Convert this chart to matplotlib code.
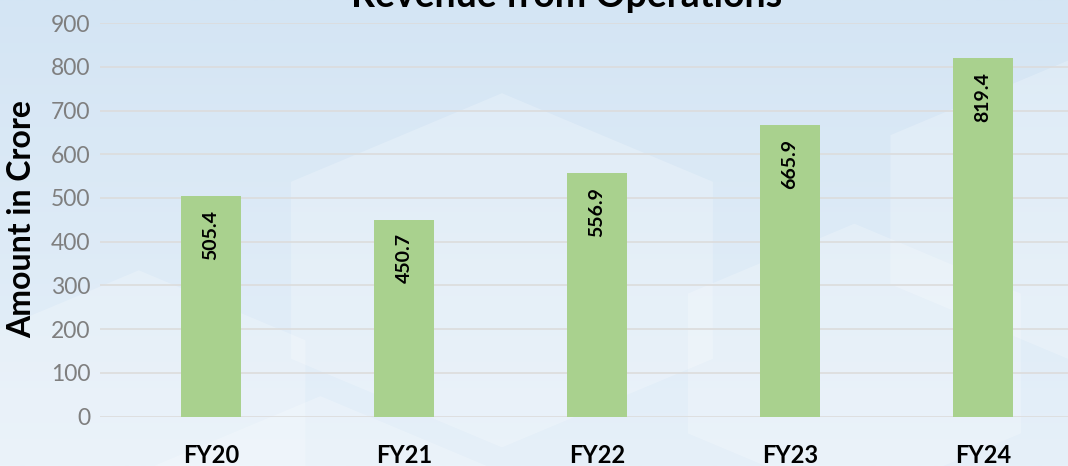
import matplotlib
matplotlib.use("Agg")
import matplotlib.pyplot as plt
import numpy as np
from matplotlib.patches import Polygon

years = ["FY20", "FY21", "FY22", "FY23", "FY24"]
revenue = [505.4, 450.7, 556.9, 665.9, 819.4]
y_ticks = [0, 100, 200, 300, 400, 500, 600, 700, 800, 900]

plt.rcParams['font.family'] = ['Lato', 'DejaVu Sans']

fig = plt.figure(figsize=(10.68, 4.66), dpi=100)

# background: soft blue gradient with faint hexagon shapes
bg = fig.add_axes([0, 0, 1, 1])
grad = np.linspace(0, 1, 256).reshape(-1, 1)
bg.imshow(grad, aspect='auto', cmap=matplotlib.colors.LinearSegmentedColormap.from_list(
    "bgc", ["#d4e5f4", "#e6f0f9"]), extent=[0, 1, 0, 1], origin='upper')
for cx, cy, r in [(0.13, 0.12, 0.30), (0.47, 0.42, 0.38), (0.80, 0.22, 0.30), (1.0, 0.55, 0.32), (0.3, -0.2, 0.35)]:
    hexa = [(cx + r * 0.6 * np.cos(a), cy + r * np.sin(a)) for a in np.radians([90, 150, 210, 270, 330, 30])]
    bg.add_patch(Polygon(hexa, closed=True, facecolor='white', alpha=0.22, edgecolor='none'))
bg.set_xlim(0, 1)
bg.set_ylim(0, 1)
bg.axis("off")

ax = fig.add_axes([0.0936, 0.1058, 0.9064, 0.8448])
ax.patch.set_alpha(0)
x = np.arange(len(years))
bars = ax.bar(x, revenue, width=0.31, color='#a9d18e', zorder=3)

for b, v in zip(bars, revenue):
    ax.annotate(f"{v:.1f}", (b.get_x() + b.get_width() / 2, v), xytext=(0, -10),
                textcoords='offset points', rotation=90, ha='center', va='top',
                fontsize=14, fontweight='bold', color='black', zorder=4)

ax.set_xlim(-0.575, 4.44)
ax.set_ylim(0, 900)
ax.set_yticks(y_ticks)
ax.set_xticks(x)
ax.set_xticklabels(years, fontsize=17, fontweight='bold', color='black')
ax.tick_params(axis='y', labelsize=16.5, labelcolor='#7f7f7f', length=0, pad=7)
ax.tick_params(axis='x', length=0, pad=20)
ax.grid(axis='y', color='#dcdcdc', linewidth=1.2, zorder=0)
for s in ax.spines.values():
    s.set_visible(False)

fig.text(0.02, 0.53, "Amount in Crore", rotation=90, ha='center', va='center',
         fontsize=23, fontweight='bold', color='black')
fig.text(0.531, 0.985, "Revenue from Operations", ha='center', va='baseline',
         fontsize=27, fontweight='bold', color='black')

fig.savefig("out.png", dpi=100)
